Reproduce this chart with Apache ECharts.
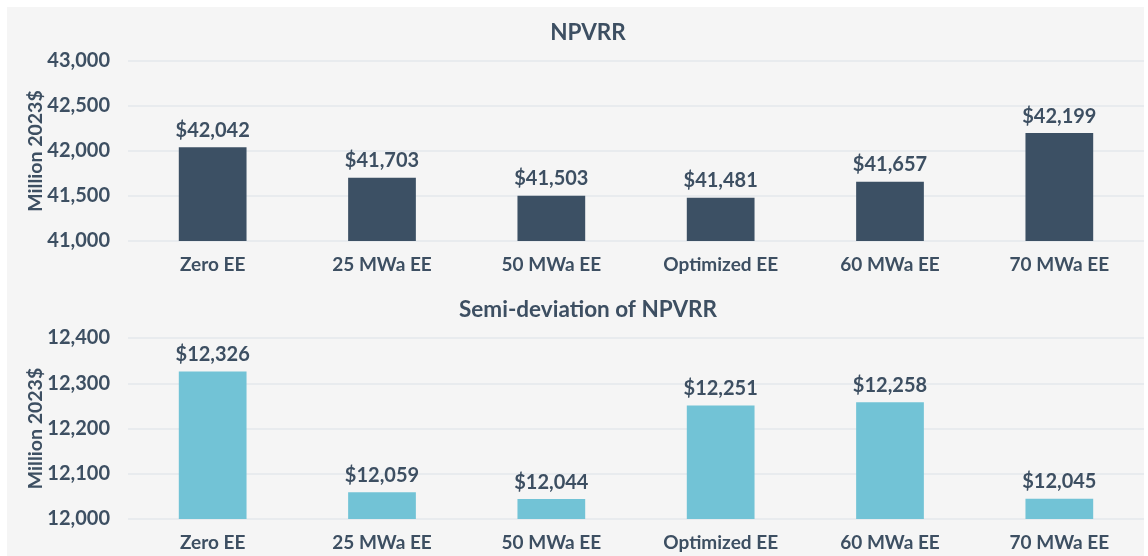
<!DOCTYPE html>
<html>
<head>
<meta charset="utf-8">
<script src="https://cdn.jsdelivr.net/npm/echarts@6/dist/echarts.min.js"></script>
<style>html,body{margin:0;padding:0;background:#fff}#c{width:1148px;height:556px}</style>
</head>
<body>
<div id="c"></div>
<script>
const categories = ['Zero EE', '25 MWa EE', '50 MWa EE', 'Optimized EE', '60 MWa EE', '70 MWa EE'];
const npvrr = [42042, 41703, 41503, 41481, 41657, 42199];
const semiDev = [12326, 12059, 12044, 12251, 12258, 12045];
const titleTop = 'NPVRR';
const titleBottom = 'Semi-deviation of NPVRR';
const yName = 'Million 2023$';

const txt = '#3d4f62';
const font = 'Lato, "Open Sans", sans-serif';
const W = 'bold';
const fmt = v => v.toLocaleString('en-US');

const chart = echarts.init(document.getElementById('c'));
function xAxis(idx) {
  return {
    type: 'category', gridIndex: idx, data: categories,
    axisLine: { show: false }, axisTick: { show: false },
    axisLabel: { color: txt, fontFamily: font, fontWeight: W, fontSize: 19, margin: 14 }
  };
}
function yAxis(idx, min, max, interval) {
  return {
    type: 'value', gridIndex: idx, min, max, interval,
    name: yName, nameLocation: 'middle', nameRotate: 90, nameGap: 82, nameMoveOverlap: false,
    nameTextStyle: { color: txt, fontFamily: font, fontWeight: W, fontSize: 19.5 },
    axisLabel: { color: txt, fontFamily: font, fontWeight: W, fontSize: 20, margin: 18, formatter: fmt },
    splitLine: { lineStyle: { color: '#e3e7eb', width: 1.5 } },
    axisLine: { show: false }, axisTick: { show: false }
  };
}
function series(idx, data, color) {
  return {
    type: 'bar', xAxisIndex: idx, yAxisIndex: idx, data, barWidth: '40%',
    itemStyle: { color },
    label: { show: true, position: 'top', distance: 7, color: txt, fontFamily: font, fontWeight: W, fontSize: 20,
      formatter: p => '$' + fmt(p.value) },
    silent: true, animation: false
  };
}
chart.setOption({
  backgroundColor: '#ffffff',
  animation: false,
  graphic: [{ type: 'rect', shape: { x: 7, y: 7, width: 1137, height: 560 }, style: { fill: '#f5f5f5' }, z: -10 }],
  title: [
    { text: titleTop, left: 583, textAlign: 'center', top: 16, textStyle: { color: txt, fontFamily: font, fontWeight: W, fontSize: 22.5 } },
    { text: titleBottom, left: 583, textAlign: 'center', top: 293, textStyle: { color: txt, fontFamily: font, fontWeight: W, fontSize: 22.5 } }
  ],
  grid: [
    { left: 128, right: 4, top: 61, height: 180 },
    { left: 128, right: 4, top: 338, height: 181 }
  ],
  xAxis: [xAxis(0), xAxis(1)],
  yAxis: [yAxis(0, 41000, 43000, 500), yAxis(1, 12000, 12400, 100)],
  series: [series(0, npvrr, '#3c5064'), series(1, semiDev, '#72c3d6')]
});
</script>
</body>
</html>
